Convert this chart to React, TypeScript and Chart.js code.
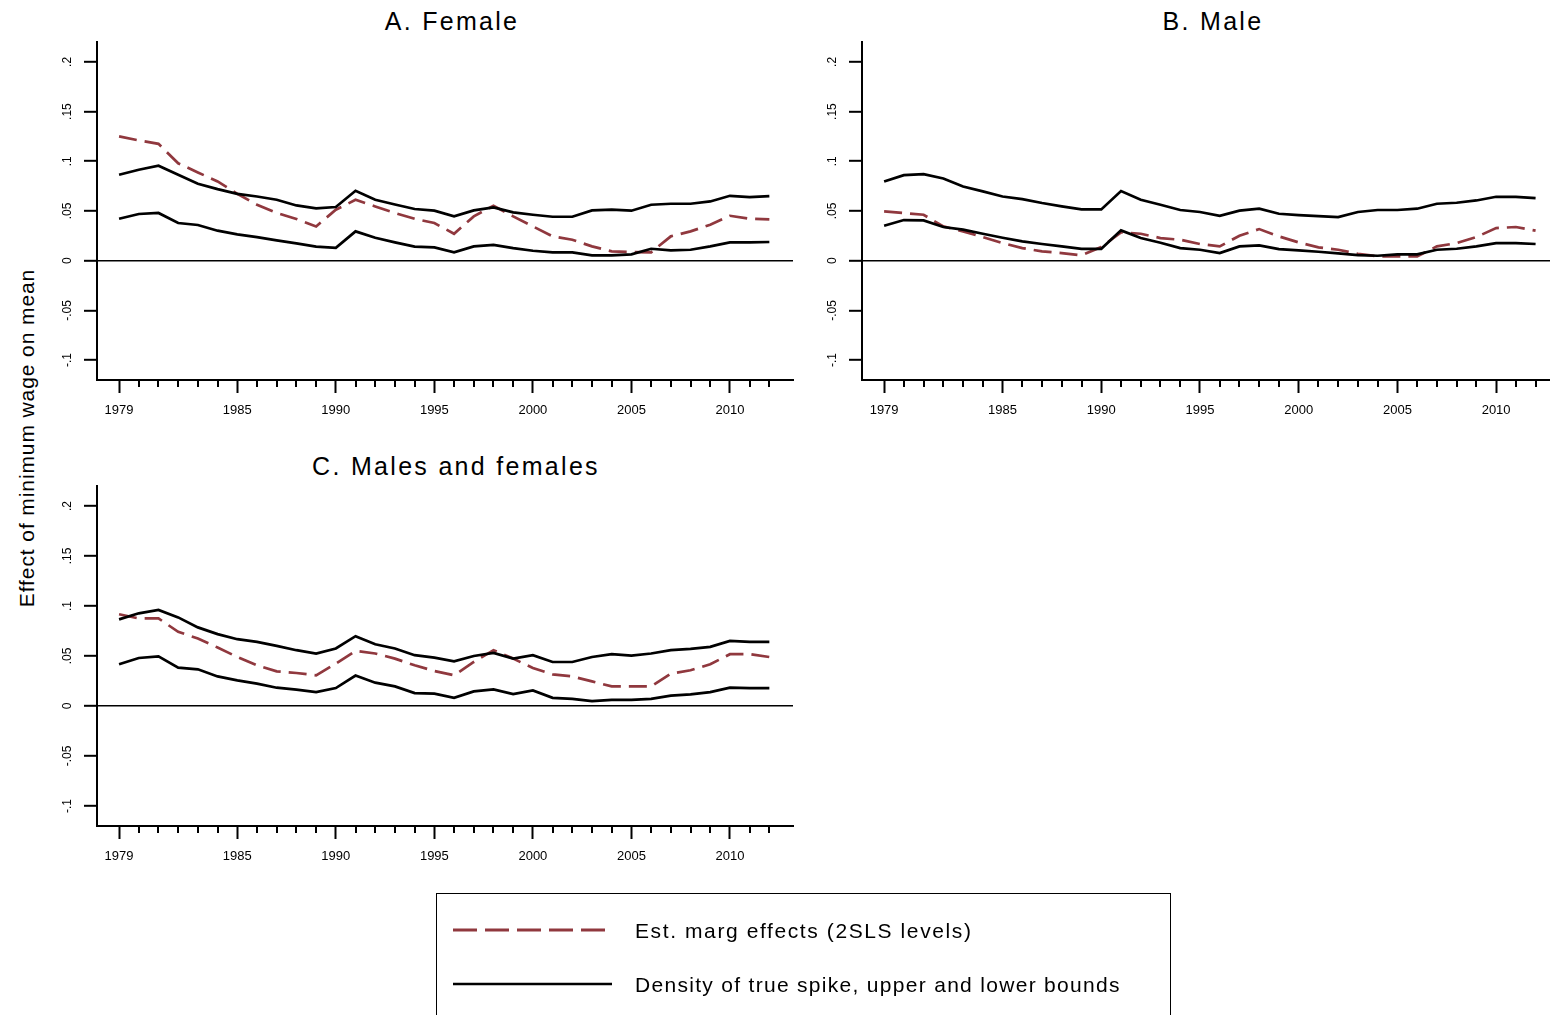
import React, { useEffect, useRef } from 'react';
import { Chart, registerables } from 'chart.js';

Chart.register(...registerables);

// ---------------- data ----------------
const YEARS = [
  1979, 1980, 1981, 1982, 1983, 1984, 1985, 1986, 1987, 1988, 1989, 1990,
  1991, 1992, 1993, 1994, 1995, 1996, 1997, 1998, 1999, 2000, 2001, 2002,
  2003, 2004, 2005, 2006, 2007, 2008, 2009, 2010, 2011, 2012,
];
const MAJOR_YEARS = [1979, 1985, 1990, 1995, 2000, 2005, 2010];
const Y_TICKS = [-0.1, -0.05, 0, 0.05, 0.1, 0.15, 0.2];
const Y_TICK_LABELS = ['-.1', '-.05', '0', '.05', '.1', '.15', '.2'];

const FEMALE_EST = [
  0.125, 0.121, 0.1176, 0.098, 0.0888, 0.0797, 0.0673, 0.0563, 0.048, 0.042, 0.0345, 0.0513,
  0.0613, 0.0546, 0.048, 0.0422, 0.0379, 0.0271, 0.0446, 0.0553, 0.0446, 0.0345, 0.0245, 0.0211,
  0.0144, 0.0094, 0.0087, 0.0084, 0.0245, 0.0295, 0.0362, 0.0452, 0.0422, 0.0415,
];
const FEMALE_UPPER = [
  0.0864, 0.0915, 0.0955, 0.0864, 0.0774, 0.072, 0.0673, 0.0646, 0.0613, 0.0556, 0.0526, 0.054,
  0.0703, 0.0613, 0.0566, 0.052, 0.0503, 0.0446, 0.0506, 0.0536, 0.0486, 0.0462, 0.0442, 0.0442,
  0.0506, 0.0513, 0.0503, 0.0563, 0.0573, 0.0573, 0.0596, 0.0653, 0.064, 0.065,
];
const FEMALE_LOWER = [
  0.0422, 0.047, 0.048, 0.0379, 0.0359, 0.0302, 0.0265, 0.0238, 0.0204, 0.0174, 0.0141, 0.013,
  0.0295, 0.0231, 0.0184, 0.0141, 0.0134, 0.0084, 0.0144, 0.016, 0.0127, 0.01, 0.0084, 0.0084,
  0.0054, 0.0054, 0.0064, 0.012, 0.0104, 0.011, 0.0144, 0.0184, 0.0184, 0.0188,
];

const MALE_EST = [
  0.0496, 0.048, 0.0462, 0.0345, 0.0295, 0.0238, 0.0177, 0.0127, 0.0094, 0.0077, 0.0054, 0.0137,
  0.0285, 0.0271, 0.0228, 0.0211, 0.0168, 0.0144, 0.0251, 0.0318, 0.0245, 0.0184, 0.0134, 0.011,
  0.007, 0.0044, 0.0044, 0.0044, 0.0144, 0.0177, 0.0238, 0.0328, 0.0339, 0.0302,
];
const MALE_UPPER = [
  0.0797, 0.0861, 0.0871, 0.0827, 0.0747, 0.0697, 0.0646, 0.062, 0.058, 0.0546, 0.0516, 0.0516,
  0.07, 0.0613, 0.0563, 0.051, 0.049, 0.0452, 0.0503, 0.0523, 0.0472, 0.0459, 0.0449, 0.0439,
  0.049, 0.051, 0.051, 0.0523, 0.0573, 0.0583, 0.0606, 0.0643, 0.0643, 0.063,
];
const MALE_LOWER = [
  0.0352, 0.0409, 0.0405, 0.0339, 0.0312, 0.0271, 0.0231, 0.0194, 0.0168, 0.0144, 0.012, 0.012,
  0.0305, 0.0228, 0.0181, 0.0127, 0.011, 0.0077, 0.0144, 0.0154, 0.0117, 0.0104, 0.009, 0.0074,
  0.0057, 0.005, 0.0064, 0.0064, 0.011, 0.012, 0.0144, 0.0177, 0.0177, 0.0168,
];

const BOTH_EST = [
  0.0917, 0.0876, 0.0876, 0.0742, 0.0675, 0.0585, 0.049, 0.0407, 0.0347, 0.033, 0.0307, 0.0424,
  0.0551, 0.0525, 0.0474, 0.0407, 0.035, 0.0307, 0.044, 0.0558, 0.0474, 0.038, 0.0317, 0.0296,
  0.0246, 0.0196, 0.0196, 0.0196, 0.0324, 0.0357, 0.0417, 0.0518, 0.0518, 0.049,
];
const BOTH_UPPER = [
  0.0866, 0.0927, 0.096, 0.0886, 0.0786, 0.0719, 0.0668, 0.0641, 0.0601, 0.0558, 0.0525, 0.0575,
  0.0698, 0.0618, 0.0575, 0.0508, 0.0484, 0.0447, 0.05, 0.0531, 0.0474, 0.0508, 0.044, 0.044,
  0.049, 0.0518, 0.0504, 0.0525, 0.0558, 0.0571, 0.0591, 0.0651, 0.0641, 0.0641,
];
const BOTH_LOWER = [
  0.0417, 0.048, 0.0497, 0.0384, 0.0367, 0.0296, 0.0256, 0.0223, 0.0183, 0.0163, 0.0139, 0.0179,
  0.0304, 0.0233, 0.0196, 0.0129, 0.0123, 0.0082, 0.0146, 0.0166, 0.0119, 0.0156, 0.0082, 0.0072,
  0.0048, 0.0062, 0.0062, 0.0072, 0.0103, 0.0116, 0.0139, 0.0183, 0.0179, 0.0179,
];

const TITLES = ['A. Female', 'B. Male', 'C. Males and females'];
const Y_AXIS_TITLE = 'Effect of minimum wage on mean';
const LEGEND_LABELS = ['Est. marg effects (2SLS levels)', 'Density of true spike, upper and lower bounds'];

// ---------------- styling ----------------
const RED = 'rgb(144,56,62)';
const FONT = '"Liberation Sans", Arial, Helvetica, sans-serif';

const stataAxisPlugin = {
  id: 'stataAxis',
  afterDraw(chart: any) {
    const { ctx, chartArea, scales } = chart;
    const xs = scales.x;
    const ys = scales.y;
    ctx.save();
    ctx.strokeStyle = '#000';
    ctx.lineWidth = 2;
    YEARS.forEach((yr) => {
      if (MAJOR_YEARS.includes(yr)) return;
      const x = Math.round(xs.getPixelForValue(yr));
      ctx.beginPath();
      ctx.moveTo(x, chartArea.bottom);
      ctx.lineTo(x, chartArea.bottom + 7);
      ctx.stroke();
    });
    ctx.fillStyle = '#000';
    ctx.font = `12px ${FONT}`;
    ctx.textAlign = 'center';
    ctx.textBaseline = 'middle';
    Y_TICKS.forEach((v, i) => {
      const y = ys.getPixelForValue(v);
      ctx.save();
      ctx.translate(chartArea.left - 29, y);
      ctx.rotate(-Math.PI / 2);
      ctx.fillText(Y_TICK_LABELS[i], 0, 0);
      ctx.restore();
    });
    ctx.restore();
  },
};

type PanelProps = {
  est: number[];
  upper: number[];
  lower: number[];
  left: number;
  top: number;
  width: number;
  height: number;
  padTop: number;
  padRight: number;
  areaBottom: number; // chart-area bottom relative to canvas
  xMax: number;
};

function Panel(p: PanelProps) {
  const ref = useRef<HTMLCanvasElement | null>(null);
  useEffect(() => {
    if (!ref.current) return;
    const pts = (arr: number[]) => YEARS.map((x, i) => ({ x, y: arr[i] }));
    const chart = new Chart(ref.current, {
      type: 'line',
      data: {
        datasets: [
          { data: pts(p.upper), borderColor: '#000', borderWidth: 2.7, pointRadius: 0, tension: 0 },
          { data: pts(p.lower), borderColor: '#000', borderWidth: 2.7, pointRadius: 0, tension: 0 },
          { data: pts(p.est), borderColor: RED, borderWidth: 2.7, borderDash: [18, 8], pointRadius: 0, tension: 0 },
        ],
      } as any,
      options: {
        animation: false,
        responsive: false,
        maintainAspectRatio: false,
        layout: { padding: { top: p.padTop, right: p.padRight, left: 0, bottom: 0 } },
        plugins: { legend: { display: false }, tooltip: { enabled: false }, title: { display: false } },
        scales: {
          x: {
            type: 'linear',
            min: 1977.88,
            max: p.xMax,
            afterBuildTicks: (s: any) => {
              s.ticks = MAJOR_YEARS.map((v) => ({ value: v }));
            },
            afterFit: (s: any) => {
              s.height = p.height - p.areaBottom;
            },
            ticks: {
              callback: (v: any) => String(v),
              font: { family: FONT, size: 13 },
              color: '#000',
              padding: 10,
              autoSkip: false,
              maxRotation: 0,
              minRotation: 0,
            },
            grid: { drawOnChartArea: false, tickLength: 13, tickWidth: 2, tickColor: '#000' },
            border: { display: true, color: '#000', width: 2 },
          },
          y: {
            type: 'linear',
            min: -0.12,
            max: 0.22,
            afterBuildTicks: (s: any) => {
              s.ticks = Y_TICKS.map((v) => ({ value: v }));
            },
            afterFit: (s: any) => {
              s.width = 97;
            },
            ticks: { color: 'rgba(0,0,0,0)', font: { family: FONT, size: 12 } },
            grid: {
              color: (c: any) => (c.tick && Math.abs(c.tick.value) < 1e-9 ? '#000' : 'rgba(0,0,0,0)'),
              lineWidth: 1.6,
              tickColor: '#000',
              tickLength: 13,
              tickWidth: 2,
            },
            border: { display: true, color: '#000', width: 2 },
          },
        },
      } as any,
      plugins: [stataAxisPlugin],
    });
    return () => chart.destroy();
  }, []);
  return (
    <canvas
      ref={ref}
      width={p.width}
      height={p.height}
      style={{ position: 'absolute', left: p.left, top: p.top, width: p.width, height: p.height, display: 'block' }}
    />
  );
}

const titleStyle = (cx: number, top: number): React.CSSProperties => ({
  position: 'absolute',
  left: cx - 250,
  width: 500,
  top,
  textAlign: 'center',
  fontFamily: FONT,
  fontSize: 25,
  lineHeight: '29px',
  letterSpacing: '2.3px',
  color: '#000',
  whiteSpace: 'nowrap',
});

export default function App() {
  return (
    <div
      style={{
        position: 'absolute',
        left: 0,
        top: 0,
        width: 1550,
        height: 1015,
        overflow: 'hidden',
        background: '#fff',
      }}
    >
      <div style={titleStyle(452, 7)}>{TITLES[0]}</div>
      <div style={titleStyle(1213, 7)}>{TITLES[1]}</div>
      <div style={titleStyle(456, 452)}>{TITLES[2]}</div>

      <div
        style={{
          position: 'absolute',
          left: 27 - 250,
          top: 438 - 13,
          width: 500,
          height: 26,
          lineHeight: '26px',
          textAlign: 'center',
          fontFamily: FONT,
          fontSize: 21,
          letterSpacing: '0.9px',
          transform: 'rotate(-90deg)',
          whiteSpace: 'nowrap',
          color: '#000',
        }}
      >
        {Y_AXIS_TITLE}
      </div>

      <Panel
        est={FEMALE_EST}
        upper={FEMALE_UPPER}
        lower={FEMALE_LOWER}
        left={0}
        top={0}
        width={800}
        height={430}
        padTop={42}
        padRight={7}
        areaBottom={380}
        xMax={2013.2}
      />
      <Panel
        est={MALE_EST}
        upper={MALE_UPPER}
        lower={MALE_LOWER}
        left={765}
        top={0}
        width={785}
        height={430}
        padTop={42}
        padRight={0}
        areaBottom={380}
        xMax={2012.73}
      />
      <Panel
        est={BOTH_EST}
        upper={BOTH_UPPER}
        lower={BOTH_LOWER}
        left={0}
        top={445}
        width={800}
        height={430}
        padTop={41}
        padRight={7}
        areaBottom={381}
        xMax={2013.2}
      />

      <div
        style={{
          position: 'absolute',
          left: 436,
          top: 893,
          width: 735,
          height: 140,
          border: '1.5px solid #000',
          boxSizing: 'border-box',
        }}
      />
      <svg
        width={1550}
        height={1015}
        style={{ position: 'absolute', left: 0, top: 0, pointerEvents: 'none' }}
      >
        <line x1={453} y1={930} x2={612} y2={930} stroke={RED} strokeWidth={3} strokeDasharray="24 8" />
        <line x1={453} y1={984} x2={612} y2={984} stroke="#000" strokeWidth={2.7} />
      </svg>
      <div
        style={{
          position: 'absolute',
          left: 635,
          top: 931 - 13,
          lineHeight: '26px',
          fontFamily: FONT,
          fontSize: 21,
          letterSpacing: '1.6px',
          whiteSpace: 'nowrap',
          color: '#000',
        }}
      >
        {LEGEND_LABELS[0]}
      </div>
      <div
        style={{
          position: 'absolute',
          left: 635,
          top: 985 - 13,
          lineHeight: '26px',
          fontFamily: FONT,
          fontSize: 21,
          letterSpacing: '1.3px',
          whiteSpace: 'nowrap',
          color: '#000',
        }}
      >
        {LEGEND_LABELS[1]}
      </div>
    </div>
  );
}
